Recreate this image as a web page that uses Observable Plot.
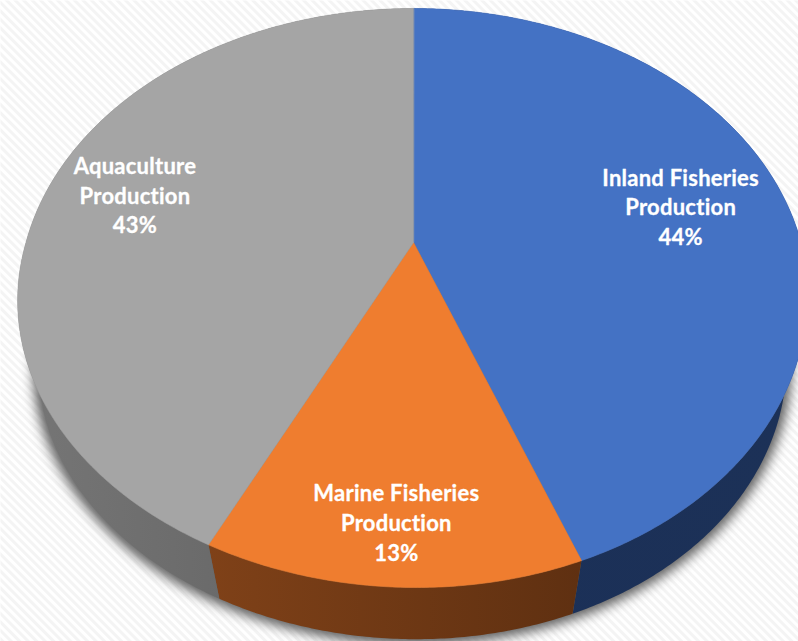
<!DOCTYPE html>
<html>
<head>
<meta charset="utf-8">
<script src="https://cdn.jsdelivr.net/npm/d3@7"></script>
<script src="https://cdn.jsdelivr.net/npm/@observablehq/plot@0.6"></script>
<style>
  html, body { margin: 0; padding: 0; background: #fff; }
  svg { display: block; }
  svg text { font-variant-ligatures: none; letter-spacing: 0.25px; }
</style>
</head>
<body>
<div id="chart"></div>
<script>
// Fish production by source, drawn as a tilted 3-D pie.
const labels = ["Inland Fisheries\nProduction", "Marine Fisheries\nProduction", "Aquaculture\nProduction"];
const shares = [44, 13, 43];
const faceColors = ["#4472c4", "#ef7d2f", "#a5a5a5"];
const wallStart = ["#1b3058", "#7f4118", "#767676"];
const wallEnd = ["#1c3157", "#5f3011", "#5f5f5f"];
const labelReach = [0.72, 0.84, 0.76];
const labelLift = [0, 0, -3.5];

const W = 798, H = 641;

// Perspective of the pie's plane: k sets the foreshortening, skew and tilt
// lean the near half slightly, and the wall is the rim scaled toward a
// vanishing point lower on the page.
const k = -0.1917;
const skew = 0.0128;
const tilt = 0.0187;
const plane = {cx: 413, cy: 242, rx: 387.5, ry: 278.9};
const wallScale = 0.947;
const wallDrop = (1 - wallScale) * 1562 / plane.ry;

function onPlane(turn, reach, lower) {
  const a = turn * 2 * Math.PI;
  const u = reach * Math.sin(a), v = -reach * Math.cos(a), w = 1 + k * v;
  let X = u / w, Y = v / w;
  const near = Math.max(0, Y);
  X -= skew * near;
  Y += tilt * X * near;
  if (lower) {
    X = X * wallScale;
    Y = (Y * plane.ry + plane.cy) * wallScale;
    Y = (Y - plane.cy) / plane.ry + wallDrop;
  }
  return {X, Y};
}

// Slice boundaries, clockwise from twelve o'clock.
const total = d3.sum(shares);
const cumulative = d3.cumsum(shares);
const slices = shares.map((s, i) => ({
  i,
  from: (cumulative[i] - s) / total,
  to: cumulative[i] / total
}));

const arcTurns = (from, to) => {
  const n = Math.max(2, Math.ceil((to - from) * 720));
  return d3.range(n + 1).map((j) => from + (to - from) * j / n);
};

const faces = slices.flatMap((s) => [
  {...onPlane(0, 0), slice: s.i},
  ...arcTurns(s.from, s.to).map((t) => ({...onPlane(t, 1), slice: s.i}))
]);

const walls = slices.flatMap((s) => {
  const turns = arcTurns(s.from, s.to);
  return [
    ...turns.map((t) => ({...onPlane(t, 1), slice: s.i})),
    ...turns.slice().reverse().map((t) => ({...onPlane(t, 1, true), slice: s.i}))
  ];
});

const rim = arcTurns(0, 1).map((t) => onPlane(t, 1, true));

const captions = slices.map((s) => {
  const mid = (s.from + s.to) / 2;
  return {...onPlane(mid, labelReach[s.i]), text: `${labels[s.i]}\n${shares[s.i]}%`, slice: s.i};
});

const ns = "http://www.w3.org/2000/svg";
function defs() {
  const el = document.createElementNS(ns, "defs");
  el.innerHTML = `
    <pattern id="stripes" width="6" height="6" patternUnits="userSpaceOnUse" patternTransform="rotate(45)">
      <rect width="6" height="6" fill="#ffffff"/>
      <rect width="6" height="3" fill="#f4f4f4"/>
    </pattern>` + slices.map((s) => `
    <linearGradient id="wall${s.i}" x1="0" x2="1" y1="0" y2="0">
      <stop offset="0" stop-color="${wallStart[s.i]}"/>
      <stop offset="1" stop-color="${wallEnd[s.i]}"/>
    </linearGradient>`).join("");
  return el;
}

const chart = Plot.plot({
  width: W,
  height: H,
  margin: 0,
  style: {background: "transparent"},
  x: {domain: [-plane.cx / plane.rx, (W - plane.cx) / plane.rx], range: [0, W], axis: null},
  y: {domain: [-plane.cy / plane.ry, (H - plane.cy) / plane.ry], range: [0, H], axis: null},
  marks: [
    defs,
    Plot.frame({fill: "url(#stripes)", stroke: "none"}),
    Plot.line(rim, {x: "X", y: "Y", curve: "linear-closed", fill: "#5e5e5e", stroke: "#5e5e5e", strokeWidth: 11, imageFilter: "blur(6px)"}),
    ...slices.map((s) => Plot.line(walls.filter((d) => d.slice === s.i), {
      x: "X", y: "Y", curve: "linear-closed", fill: `url(#wall${s.i})`, stroke: "none"
    })),
    ...slices.map((s) => Plot.line(faces.filter((d) => d.slice === s.i), {
      x: "X", y: "Y", curve: "linear-closed", fill: faceColors[s.i], stroke: faceColors[s.i], strokeWidth: 0.6
    })),
    ...captions.map((c) => Plot.text([c], {
      x: "X", y: "Y", text: "text", dy: labelLift[c.slice],
      fill: "#ffffff", stroke: "#ffffff", strokeWidth: 0.3, fontFamily: "Lato", fontWeight: 700, fontSize: 22, lineHeight: 1.35
    }))
  ]
});
document.getElementById("chart").append(chart);
</script>
</body>
</html>
